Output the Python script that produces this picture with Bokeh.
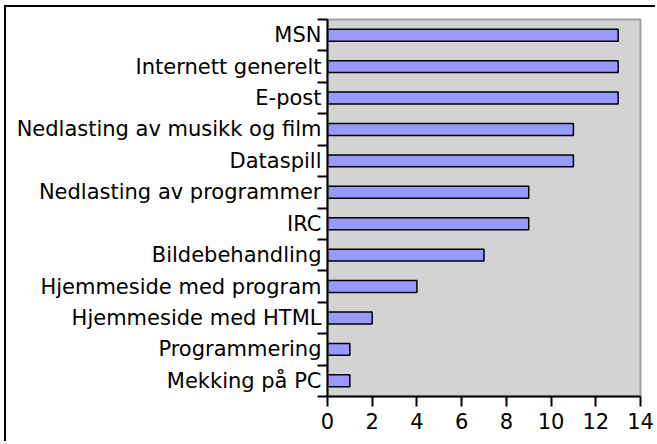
from bokeh.plotting import figure
from bokeh.models import FixedTicker, Range1d, ColumnDataSource
from bokeh.embed import file_html
from bokeh.resources import INLINE

categories = ["Mekking på PC", "Programmering", "Hjemmeside med HTML",
              "Hjemmeside med program", "Bildebehandling", "IRC",
              "Nedlasting av programmer", "Dataspill",
              "Nedlasting av musikk og film", "E-post",
              "Internett generelt", "MSN"]
values = [1, 1, 2, 4, 7, 9, 9, 11, 11, 13, 13, 13]
x_ticks = [0, 2, 4, 6, 8, 10, 12, 14]

pos = list(range(len(categories)))
src = ColumnDataSource(dict(y=pos, v=values, cat=categories))

FONT = "DejaVu Sans"

p = figure(width=651, height=436, output_backend="svg", toolbar_location=None,
           x_range=Range1d(0, 14), y_range=Range1d(-0.5, len(categories) - 0.5),
           min_border_left=321, min_border_right=17, min_border_top=12,
           min_border_bottom=47)
p.margin = (5, 0, 0, 4)
p.styles = {"border-top": "2px solid black", "border-left": "2px solid black"}

p.background_fill_color = "#d3d3d3"
p.border_fill_color = "white"
p.outline_line_color = "#a0a0a0"
p.outline_line_width = 2
p.grid.visible = False

p.hbar(y="y", right="v", left=0, height=0.38, source=src,
       fill_color="#9999ff", line_color="black", line_width=1.5)

xa = p.xaxis[0]
xa.ticker = FixedTicker(ticks=x_ticks)
xa.major_tick_out = 10
xa.major_tick_in = 0
xa.minor_tick_out = 0
xa.minor_tick_in = 0
xa.axis_line_color = "black"
xa.axis_line_width = 2
xa.major_tick_line_width = 2
xa.major_label_text_font = FONT
xa.major_label_text_font_size = "21px"
xa.major_label_text_color = "black"
xa.major_label_standoff = 6

ya = p.yaxis[0]
ya.ticker = FixedTicker(ticks=pos, minor_ticks=[i - 0.5 for i in range(len(categories) + 1)])
ya.major_label_overrides = {i: c for i, c in zip(pos, categories)}
ya.major_tick_out = 0
ya.major_tick_in = 0
ya.minor_tick_out = 10
ya.minor_tick_in = 0
ya.minor_tick_line_color = "black"
ya.minor_tick_line_width = 2
ya.axis_line_color = "black"
ya.axis_line_width = 2
ya.major_label_text_font = FONT
ya.major_label_text_font_size = "21px"
ya.major_label_text_color = "black"
ya.major_label_standoff = -4

open("out.html", "w").write(file_html(p, INLINE))
